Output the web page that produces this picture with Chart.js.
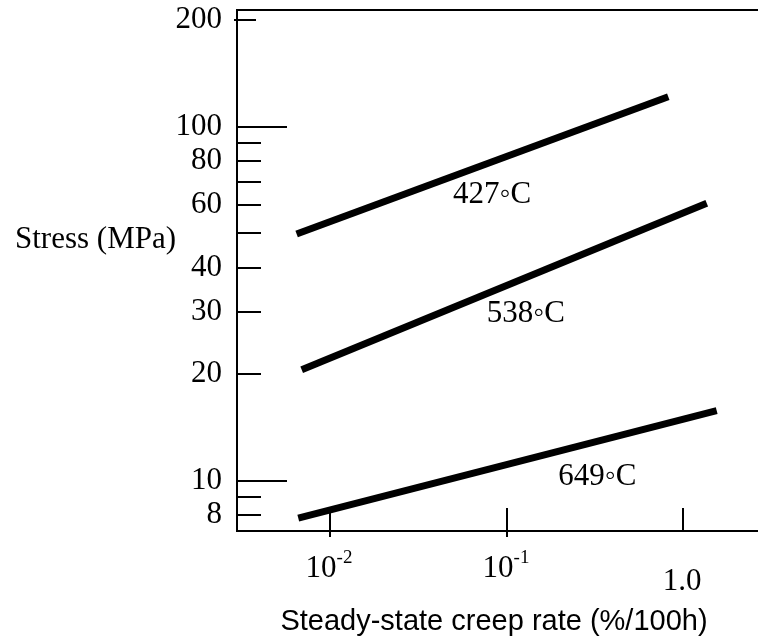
<!DOCTYPE html>
<html>
<head>
<meta charset="utf-8">
<title>Stress vs steady-state creep rate</title>
<script src="https://cdn.jsdelivr.net/npm/chart.js@4.4.1/dist/chart.umd.min.js"></script>
<style>
  html, body { margin: 0; padding: 0; background: #fff; }
  #wrap { width: 758px; height: 639px; }
</style>
</head>
<body>
<div id="wrap"><canvas id="creepChart" width="758" height="639"></canvas></div>
<script>
// end points of each fitted line: creep rate (%/100h) and stress (MPa)
const rate427 = [0.00642, 0.830];
const stress427 = [49.8, 121.5];
const rate538 = [0.00686, 1.373];
const stress538 = [20.6, 60.8];
const rate649 = [0.00656, 1.564];
const stress649 = [7.85, 15.8];

const curveNames = ['427◦C', '538◦C', '649◦C'];

const yTickValues = [8, 9, 10, 20, 30, 40, 50, 60, 70, 80, 90, 100, 200];
const yTickLabels = ['8', '', '10', '20', '30', '40', '', '60', '', '80', '', '100', '200'];
const xTickValues = [0.01, 0.1, 1];
const xTickBase = ['10', '10', '1.0'];
const xTickExp = ['-2', '-1', ''];

const SERIF = '"Liberation Serif", "Times New Roman", serif';
const SANS = '"Liberation Sans", Arial, sans-serif';

// where the temperature labels sit (data coords, left edge / baseline)
const nameAnchors = [[0.0497, 60.8], [0.0772, 28.1], [0.197, 9.74]];

const toPoints = (xs, ys) => xs.map((v, i) => ({ x: v, y: ys[i] }));

const lineStyle = {
  showLine: true,
  borderColor: '#000',
  borderWidth: 7,
  borderCapStyle: 'butt',
  pointRadius: 0,
  fill: false
};

// short inward tick marks, labels with superscripts, axis titles
const decorations = {
  id: 'decorations',
  afterDraw(chart) {
    const { ctx, chartArea: a, scales: { x, y } } = chart;
    ctx.save();
    ctx.strokeStyle = '#000';
    ctx.fillStyle = '#000';
    ctx.lineWidth = 2;

    // top frame line
    ctx.beginPath();
    ctx.moveTo(a.left, a.top);
    ctx.lineTo(a.right + 1, a.top);
    ctx.stroke();

    yTickValues.forEach(v => {
      const py = Math.round(y.getPixelForValue(v));
      let x0 = a.left, len = 24;
      if (v === 10 || v === 100) len = 50;
      if (v === 200) { x0 = a.left - 3; len = 22; }
      ctx.beginPath();
      ctx.moveTo(x0, py);
      ctx.lineTo(x0 + len, py);
      ctx.stroke();
    });

    xTickValues.forEach((v, i) => {
      const px = Math.round(x.getPixelForValue(v));
      ctx.beginPath();
      ctx.moveTo(px, a.bottom - 23);
      ctx.lineTo(px, xTickExp[i] ? a.bottom + 6 : a.bottom);
      ctx.stroke();

      ctx.textAlign = 'left';
      ctx.textBaseline = 'alphabetic';
      ctx.font = '31px ' + SERIF;
      const wBase = ctx.measureText(xTickBase[i]).width;
      ctx.font = '19px ' + SERIF;
      const wExp = xTickExp[i] ? ctx.measureText(xTickExp[i]).width : 0;
      const left = px - (wBase + wExp) / 2 - 1;
      ctx.font = '31px ' + SERIF;
      ctx.fillText(xTickBase[i], left, a.bottom + (xTickExp[i] ? 46 : 59));
      if (xTickExp[i]) {
        ctx.font = '19px ' + SERIF;
        ctx.fillText(xTickExp[i], left + wBase, a.bottom + 32);
      }
    });

    ctx.font = '31px ' + SERIF;
    ctx.textAlign = 'left';
    curveNames.forEach((t, i) => {
      const [vx, vy] = nameAnchors[i];
      ctx.fillText(t, x.getPixelForValue(vx), y.getPixelForValue(vy));
    });

    ctx.fillText('Stress (MPa)', 15, 248);

    ctx.font = '29px ' + SANS;
    ctx.textAlign = 'center';
    ctx.fillText('Steady-state creep rate (%/100h)', 494, 630);
    ctx.restore();
  }
};

new Chart(document.getElementById('creepChart').getContext('2d'), {
  type: 'scatter',
  data: {
    datasets: [
      { label: curveNames[0], data: toPoints(rate427, stress427), ...lineStyle },
      { label: curveNames[1], data: toPoints(rate538, stress538), ...lineStyle },
      { label: curveNames[2], data: toPoints(rate649, stress649), ...lineStyle }
    ]
  },
  options: {
    responsive: false,
    animation: false,
    devicePixelRatio: 1,
    layout: { padding: { left: 0, top: 10, right: 1, bottom: 0 } },
    plugins: { legend: { display: false }, tooltip: { enabled: false } },
    scales: {
      x: {
        type: 'logarithmic',
        min: 0.002943,
        max: 2.65,
        grid: { display: false, drawTicks: false },
        border: { display: true, color: '#000', width: 2 },
        ticks: { display: false },
        afterFit(s) {
          s.height = 108;
          s.paddingLeft = 0;
          s.paddingRight = 0;
        }
      },
      y: {
        type: 'logarithmic',
        min: 7.225,
        max: 213.5,
        grid: { display: false, drawTicks: false },
        border: { display: true, color: '#000', width: 2 },
        afterBuildTicks(s) { s.ticks = yTickValues.map(v => ({ value: v })); },
        ticks: {
          autoSkip: false,
          padding: 15,
          color: '#000',
          font: { family: SERIF, size: 31 },
          callback: (v, i) => yTickLabels[i]
        },
        afterFit(s) {
          s.width = 237;
          s.paddingTop = 0;
          s.paddingBottom = 0;
        }
      }
    }
  },
  plugins: [decorations]
});
</script>
</body>
</html>
